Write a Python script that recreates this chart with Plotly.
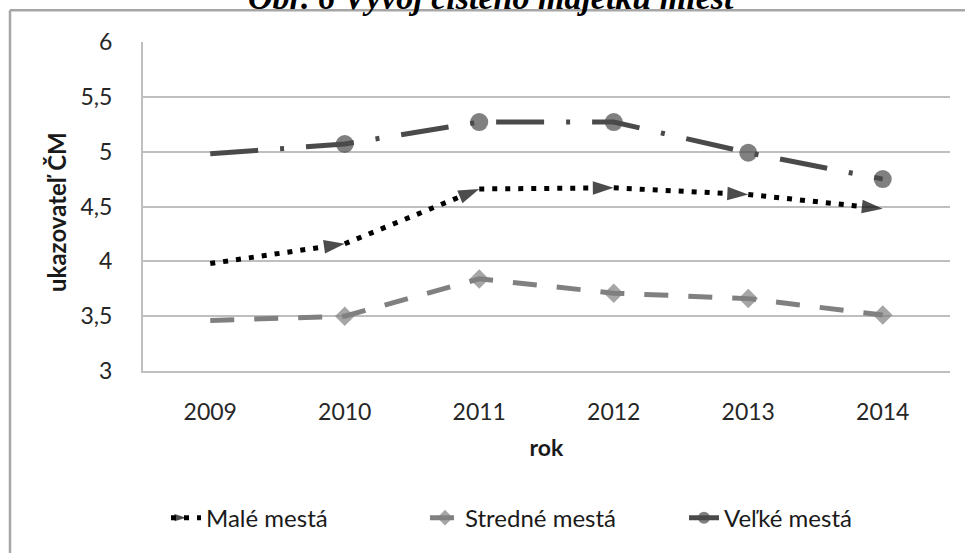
import plotly.graph_objects as go

# Years on the category axis
years = ["2009", "2010", "2011", "2012", "2013", "2014"]

# Indicator values per city size group
male_mesta = [3.98, 4.16, 4.66, 4.67, 4.61, 4.48]
stredne_mesta = [3.46, 3.50, 3.84, 3.71, 3.66, 3.51]
velke_mesta = [4.98, 5.07, 5.27, 5.27, 4.99, 4.75]

series_names = ["Malé mestá", "Stredné mestá", "Veľké mestá"]
y_title = "ukazovateľ ČM"
x_title = "rok"
fig_title = "Obr. 6 Vývoj čistého majetku miest"

W, H = 965, 553
M_L, M_R, M_T, M_B = 143, 15, 42, 180
plot_w = W - M_L - M_R
plot_h = H - M_T - M_B

font_family = "Lato, 'Open Sans', sans-serif"

fig = go.Figure()

# Small towns: black dotted line with arrow heads (none on the first year)
fig.add_trace(go.Scatter(
    x=years, y=male_mesta, name=series_names[0], mode="lines+markers",
    line=dict(color="#000000", width=5, dash="5px,8px"),
    marker=dict(symbol="arrow", angleref="previous", color="#000000",
                size=[0] + [22] * (len(years) - 1), line=dict(width=0)),
))

# Medium towns: grey dashed line with diamonds
fig.add_trace(go.Scatter(
    x=years, y=stredne_mesta, name=series_names[1], mode="lines+markers",
    line=dict(color="#808080", width=5, dash="24px,20px"),
    marker=dict(symbol="diamond", color="#808080",
                size=[0] + [15] * (len(years) - 1), line=dict(width=0)),
))

# Large towns: dark grey long dash-dot line with circles
fig.add_trace(go.Scatter(
    x=years, y=velke_mesta, name=series_names[2], mode="lines+markers",
    line=dict(color="#4a4a4a", width=5, dash="48px,22px,4px,22px"),
    marker=dict(symbol="circle", color="#4a4a4a",
                size=[0] + [18] * (len(years) - 1), line=dict(width=0)),
))

fig.update_layout(
    width=W, height=H,
    margin=dict(l=M_L, r=M_R, t=M_T, b=M_B, pad=0),
    paper_bgcolor="white", plot_bgcolor="white",
    separators=", ",
    font=dict(family=font_family, size=22, color="#1a1a1a"),
    showlegend=True,
    legend=dict(
        orientation="h", x=(166 - M_L) / plot_w, xanchor="left",
        y=-0.447, yanchor="middle",
        font=dict(size=24, color="#1a1a1a"), itemsizing="constant",
        entrywidth=214, entrywidthmode="pixels",
        bgcolor="rgba(0,0,0,0)",
    ),
    xaxis=dict(
        type="category", categoryorder="array", categoryarray=years,
        showgrid=False, showline=True, linecolor="#bfbfbf", linewidth=2,
        ticks="", ticklabelstandoff=19,
        tickfont=dict(size=23, color="#262626"),
        title=dict(text=f"<b>{x_title}</b>", standoff=16,
                   font=dict(size=23, color="#1a1a1a")),
        range=[-0.5, len(years) - 0.5], fixedrange=True,
    ),
    yaxis=dict(
        range=[3, 6], dtick=0.5, tick0=3,
        showgrid=True, gridcolor="#bfbfbf", gridwidth=2,
        showline=True, linecolor="#bfbfbf", linewidth=2,
        zeroline=False, ticks="", ticklabelstandoff=24,
        tickfont=dict(size=23, color="#262626"),
        fixedrange=True,
    ),
)

# Y-axis title placed close to the tick labels
fig.add_annotation(
    text=f"<b>{y_title}</b>", xref="paper", yref="paper",
    x=(57 - M_L) / plot_w, y=1 - (213 - M_T) / plot_h,
    xanchor="center", yanchor="middle", textangle=-90, showarrow=False,
    font=dict(size=24, color="#1a1a1a"),
)

# Frame of the chart area (top and left edges)
fig.add_shape(type="line", xref="paper", yref="paper",
              x0=(10 - M_L) / plot_w, x1=(W + 5 - M_L) / plot_w,
              y0=1 + (M_T - 10) / plot_h, y1=1 + (M_T - 10) / plot_h,
              line=dict(color="#a6a6a6", width=2.5), layer="below")
fig.add_shape(type="line", xref="paper", yref="paper",
              x0=(10 - M_L) / plot_w, x1=(10 - M_L) / plot_w,
              y0=1 + (M_T - 10) / plot_h, y1=-(H - M_T - plot_h + 5) / plot_h,
              line=dict(color="#a6a6a6", width=2.5), layer="below")

# Figure caption above the chart
fig.add_annotation(
    text=f"<b><i>{fig_title}</i></b>", xref="paper", yref="paper",
    x=(491 - M_L) / plot_w, y=1 + (M_T - 18) / plot_h,
    xanchor="center", yanchor="bottom", showarrow=False,
    font=dict(family="'Liberation Serif', 'Times New Roman', serif", size=34, color="#000000"),
)

fig.write_html("out.html")
